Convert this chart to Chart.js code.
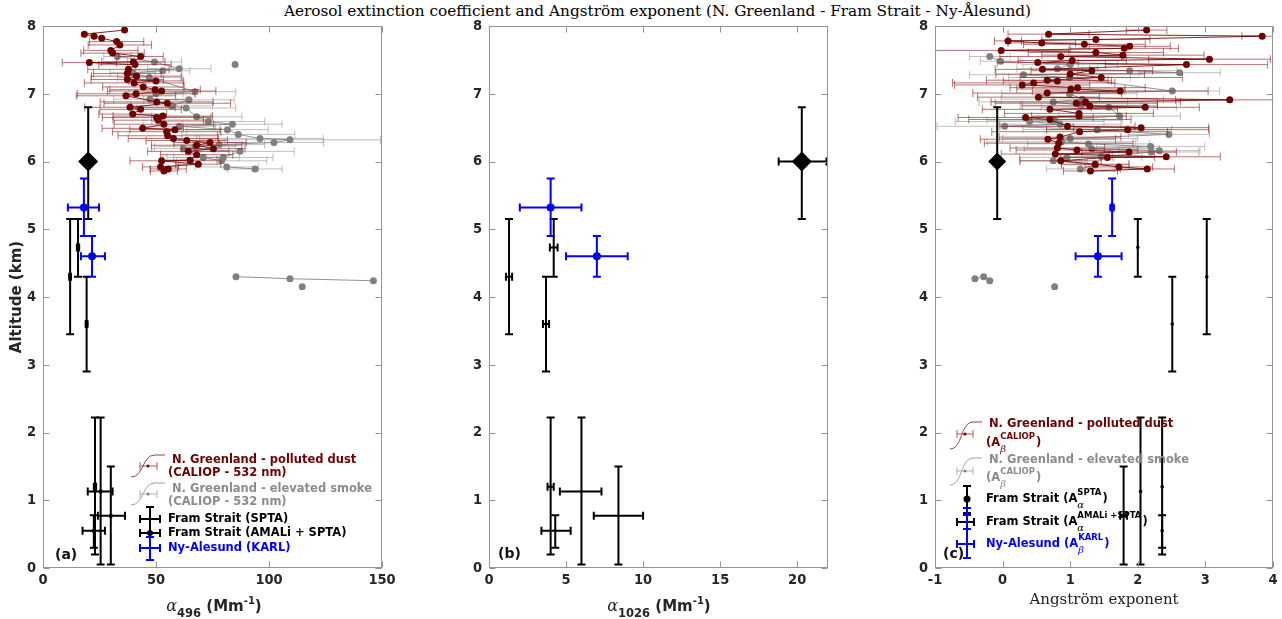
<!DOCTYPE html>
<html>
<head>
<meta charset="utf-8">
<title>Aerosol extinction coefficient and Angström exponent</title>
<script src="https://cdn.jsdelivr.net/npm/chart.js@4.4.1/dist/chart.umd.min.js"></script>
<style>
  html, body { margin: 0; padding: 0; background: #fff; }
  body { width: 1282px; height: 619px; position: relative; overflow: hidden; font-family: 'DejaVu Sans', sans-serif; }
  .panel { position: absolute; top: 0; }
  #title { position: absolute; top: 2px; left: 0; width: 1315px; text-align: center; font-family: 'DejaVu Serif', serif; font-size: 15.3px; color: #000; white-space: nowrap; }
  .xt { position: absolute; transform: translateX(-50%); font-weight: bold; font-size: 15px; color: #262626; white-space: nowrap; line-height: 1; }
  .xt .g { font-family: 'DejaVu Serif', serif; font-style: italic; font-weight: normal; font-size: 16px; }
  .xt sub { font-size: 11.5px; vertical-align: -6px; }
  .xt sup { font-size: 10px; vertical-align: 7px; }
  #xtc { font-family: 'DejaVu Serif', serif; font-weight: normal; font-size: 15px; color: #222; }
</style>
</head>
<body>
<div id="title">Aerosol extinction coefficient and Angström exponent (N. Greenland - Fram Strait - Ny-Ålesund)</div>
<canvas id="panelA" class="panel" width="400" height="619" style="left:0px"></canvas>
<canvas id="panelB" class="panel" width="400" height="619" style="left:440px"></canvas>
<canvas id="panelC" class="panel" width="397" height="619" style="left:885px"></canvas>
<div class="xt" id="xta" style="left:214px; top:596px"><span class="g">α</span><sub>496</sub> (Mm<sup>-1</sup>)</div>
<div class="xt" id="xtb" style="left:659px; top:596px"><span class="g">α</span><sub>1026</sub> (Mm<sup>-1</sup>)</div>
<div class="xt" id="xtc" style="left:1104px; top:592px">Angström exponent</div>
<script>
// ---- axes ----
const altTicks = [0, 1, 2, 3, 4, 5, 6, 7, 8];
const alpha496Ticks = [0, 50, 100, 150];
const alpha1026Ticks = [0, 5, 10, 15, 20];
const angTicks = [-1, 0, 1, 2, 3, 4];

// ---- CALIOP polluted dust, extinction at 532 nm (panel a) ----
const dustAltA = [7.94, 7.88, 7.85, 7.82, 7.77, 7.72, 7.64, 7.60, 7.55, 7.47,
  7.46, 7.43, 7.36, 7.30, 7.26, 7.21, 7.19, 7.16, 7.10, 7.06,
  7.04, 7.00, 6.97, 6.88, 6.86, 6.80, 6.77, 6.70, 6.67, 6.65,
  6.61, 6.55, 6.49, 6.47, 6.44, 6.38, 6.34, 6.31, 6.28, 6.24,
  6.19, 6.15, 6.10, 6.02, 6.01, 5.96, 5.92, 5.89, 5.86];
const dustAlphaA = [36.1, 18.3, 22.6, 26.0, 32.6, 34.0, 30.0, 30.8, 43.2, 40.0,
  20.5, 40.7, 37.8, 37.3, 41.4, 37.3, 50.0, 40.3, 44.4, 49.6,
  52.5, 41.2, 36.7, 50.3, 55.0, 38.5, 43.2, 39.7, 53.0, 50.3,
  51.0, 53.5, 44.1, 58.4, 54.7, 55.2, 57.7, 63.6, 73.9, 68.0,
  75.4, 64.3, 68.0, 65.0, 52.5, 68.7, 52.0, 55.4, 53.5];
const dustAlphaErrA = [0, 0, 0, 0, 12, 14, 12, 14, 10, 14,
  12, 16, 18, 15, 20, 16, 12, 22, 18, 20,
  24, 26, 22, 25, 28, 20, 18, 15, 22, 24,
  20, 22, 18, 20, 24, 22, 20, 18, 16, 20,
  14, 18, 16, 12, 14, 10, 8, 8, 6];

// ---- CALIOP elevated smoke (panel a) ----
const smokeAltA = [7.55, 7.47, 7.37, 7.34, 7.31, 7.24, 7.03, 7.00, 6.92,
  6.91, 6.82, 6.79, 6.66, 6.59, 6.55, 6.52, 6.47, 6.40, 6.34,
  6.32, 6.28, 6.25, 6.22, 6.19, 6.15, 6.06, 6.06, 6.01, 5.92,
  5.89];
const smokeAlphaA = [32.9, 49.3, 60.3, 53.0, 39.7, 47.0, 67.3, 50.0, 47.3,
  64.6, 57.0, 63.3, 68.0, 73.1, 83.8, 60.3, 81.6, 86.4, 96.0,
  109.3, 102.2, 78.0, 67.3, 62.1, 87.2, 79.8, 70.9, 79.0, 81.3,
  93.8];
const smokeAlphaErrA = [6, 12, 14, 12, 10, 14, 18, 12, 16,
  20, 18, 22, 20, 25, 22, 16, 18, 25, 28,
  40, 22, 20, 18, 14, 24, 22, 16, 20, 14,
  12];
const smokeLowAltA = [4.30, 4.27, 4.24];
const smokeLowAlphaA = [85.4, 109.3, 146.2];
const smokeLoneAltA = [7.43, 4.15];
const smokeLoneAlphaA = [85.0, 114.7];

// ---- CALIOP polluted dust, backscatter Angstrom exponent (panel c) ----
const dustAltC = [7.94, 7.88, 7.85, 7.80, 7.78, 7.75, 7.73, 7.70, 7.67, 7.64,
  7.61, 7.57, 7.55, 7.51, 7.49, 7.46, 7.43, 7.36, 7.34, 7.29,
  7.24, 7.20, 7.19, 7.16, 7.13, 7.09, 7.07, 7.04, 7.01, 6.95,
  6.91, 6.88, 6.86, 6.82, 6.80, 6.77, 6.71, 6.67, 6.65, 6.62,
  6.52, 6.50, 6.47, 6.44, 6.36, 6.33, 6.27, 6.20, 6.17, 6.14,
  6.11, 6.07, 6.06, 6.01, 5.96, 5.92, 5.89, 5.86];
const dustAngC = [2.13, 0.68, 3.84, 1.38, 0.08, 0.58, 1.21, 1.88, 1.80, -0.02,
  1.38, 1.78, 0.86, 3.06, 1.03, 0.52, 2.72, 0.59, 1.32, 1.00,
  1.46, 0.66, 0.81, 0.46, 0.29, 1.11, 1.01, 1.74, 0.66, 0.53,
  3.36, 1.23, 1.09, 1.29, 2.11, 0.70, 1.13, 1.13, 0.34, 0.70,
  0.96, 2.05, 1.85, 1.14, 0.85, 0.67, 0.83, 0.81, 1.10, 1.87,
  0.78, 2.42, 1.55, 0.86, 1.37, 1.72, 2.14, 1.30];
const dustAngErrC = [0.3, 0.6, 0.3, 0.8, 0.2, 0.5, 0.9, 0.6, 0.8, 1.0,
  1.0, 1.2, 0.9, 0.9, 0.8, 0.6, 1.2, 0.7, 0.9, 1.1,
  1.2, 0.9, 0.8, 1.2, 1.0, 1.0, 0.8, 1.3, 1.1, 0.9,
  0.8, 1.4, 1.2, 1.0, 0.8, 1.0, 1.1, 0.7, 1.0, 1.2,
  1.0, 1.0, 1.2, 1.3, 0.9, 1.0, 1.1, 0.7, 0.9, 0.7,
  0.8, 0.8, 0.7, 0.6, 0.5, 0.5, 0.4, 0.4];

// ---- CALIOP elevated smoke (panel c) ----
const smokeAltC = [7.55, 7.48, 7.43, 7.37, 7.34, 7.31, 7.28, 7.24, 7.04, 7.00,
  6.92, 6.88, 6.83, 6.80, 6.67, 6.61, 6.59, 6.55, 6.52, 6.47,
  6.40, 6.34, 6.29, 6.26, 6.22, 6.19, 6.16, 6.14, 6.07, 6.06,
  6.01, 5.95, 5.89];
const smokeAngC = [-0.19, -0.03, 1.00, 0.81, 1.88, 2.62, 0.31, 0.99, 2.51, 0.99,
  1.18, 0.75, 1.16, 1.57, 1.73, 0.77, 0.40, 0.85, 0.03, 1.40,
  2.46, 1.00, 0.87, 1.27, 2.19, 1.32, 2.32, 2.20, 1.46, 0.95,
  0.75, 1.37, 1.15];
const smokeAngErrC = [0.3, 0.3, 0.7, 0.6, 0.7, 0.6, 0.8, 0.9, 0.7, 1.0,
  1.2, 1.1, 0.9, 1.0, 0.9, 1.0, 1.1, 0.9, 1.0, 1.1,
  0.6, 1.0, 1.1, 0.9, 0.8, 1.0, 0.6, 0.7, 0.6, 0.7,
  0.5, 0.5, 0.5];
const smokeLowAltC = [4.27, 4.30, 4.24];
const smokeLowAngC = [-0.41, -0.28, -0.19];
const smokeLoneAltC = [4.15];
const smokeLoneAngC = [0.77];

// ---- Fram Strait, AMALi + SPTA ----
const amaliAlt = [4.30, 4.73, 3.60, 1.20, 1.13, 0.77, 0.55];
const amaliAltLo = [3.45, 4.30, 2.90, 0.20, 0.05, 0.05, 0.30];
const amaliAltHi = [5.15, 5.15, 4.30, 2.22, 2.22, 1.50, 0.78];
const amaliAlpha496 = [12.0, 15.5, 19.3, 23.0, 25.5, 30.0, 22.5];
const amaliAlpha496Lo = [11.6, 15.0, 18.9, 22.5, 19.8, 24.3, 17.5];
const amaliAlpha496Hi = [12.4, 16.0, 19.7, 23.5, 30.8, 36.3, 27.4];
const amaliAlpha1026 = [1.3, 4.2, 3.7, 4.0, 6.0, 8.4, 4.3];
const amaliAlpha1026Lo = [1.1, 3.95, 3.5, 3.8, 4.6, 6.8, 3.4];
const amaliAlpha1026Hi = [1.5, 4.45, 3.9, 4.2, 7.3, 10.0, 5.3];
const amaliAng = [3.02, 2.00, 2.51, 2.36, 2.04, 1.79, 2.36];
const amaliAngLo = [3.02, 2.00, 2.51, 2.36, 2.04, 1.74, 2.36];
const amaliAngHi = [3.02, 2.00, 2.51, 2.36, 2.04, 1.84, 2.36];

// ---- Fram Strait, SPTA ----
const sptaAlt = [6.0];
const sptaAltLo = [5.15];
const sptaAltHi = [6.8];
const sptaAlpha496 = [20.0];
const sptaAlpha1026 = [20.3];
const sptaAlpha1026Lo = [18.8];
const sptaAlpha1026Hi = [21.9];
const sptaAng = [-0.08];

// ---- Ny-Alesund, KARL ----
const karlAlt = [5.32, 4.60];
const karlAltLo = [4.90, 4.30];
const karlAltHi = [5.75, 4.90];
const karlAlpha496 = [18.1, 21.7];
const karlAlpha496Lo = [11.0, 16.8];
const karlAlpha496Hi = [24.8, 27.4];
const karlAlpha1026 = [4.0, 7.0];
const karlAlpha1026Lo = [2.0, 5.0];
const karlAlpha1026Hi = [6.0, 9.0];
const karlAng = [1.62, 1.41];
const karlAngLo = [1.60, 1.08];
const karlAngHi = [1.64, 1.76];

// ---- styling ----
const DUST = '#6e0000';
const SMOKE = '#808080';
const BLUE = '#0000ff';
const TICK_FONT = { family: "'DejaVu Sans Condensed', 'DejaVu Sans', sans-serif", size: 14.5, weight: 'bold' };
const LEG_FONT = "bold 11.5px 'DejaVu Sans', sans-serif";

const pts = (xs, ys) => ys.map((y, i) => ({ x: xs[i], y }));

function caliop(xs, ys, err, dust, radius) {
  return {
    data: pts(xs, ys),
    showLine: true,
    borderColor: dust ? 'rgba(110,0,0,0.85)' : 'rgba(128,128,128,0.85)',
    borderWidth: 1,
    pointRadius: radius,
    pointBackgroundColor: dust ? DUST : SMOKE,
    pointBorderWidth: 0,
    order: dust ? 4 : 5,
    errorBars: err ? {
      xLo: xs.map((v, i) => v - err[i]),
      xHi: xs.map((v, i) => v + err[i]),
      color: dust ? 'rgba(140,25,25,0.6)' : 'rgba(150,150,150,0.6)',
      width: 1, cap: 4
    } : null
  };
}

function smokeExtra(xs, ys, line) {
  return {
    data: pts(xs, ys), showLine: line, borderColor: 'rgba(128,128,128,0.85)', borderWidth: 1,
    pointRadius: 3.5, pointBackgroundColor: SMOKE, pointBorderWidth: 0, order: 5
  };
}

function marked(xs, ys, bars, color, style, radius, order) {
  return {
    data: pts(xs, ys), showLine: false,
    pointStyle: style, pointRadius: radius,
    pointBackgroundColor: color, pointBorderColor: color, pointBorderWidth: 0,
    order, errorBars: Object.assign({ color, width: 2, cap: 4 }, bars)
  };
}

// error bars drawn under each dataset's own markers
const errorBarPlugin = {
  id: 'errorBars',
  beforeDatasetDraw(chart, args) {
    const ds = chart.data.datasets[args.index];
    const eb = ds.errorBars;
    if (!eb) return;
    const { ctx, chartArea: a, scales: { x, y } } = chart;
    ctx.save();
    ctx.beginPath();
    ctx.rect(a.left, a.top, a.right - a.left, a.bottom - a.top);
    ctx.clip();
    ctx.strokeStyle = eb.color;
    ctx.lineWidth = eb.width;
    ds.data.forEach((p, i) => {
      const px = x.getPixelForValue(p.x), py = y.getPixelForValue(p.y);
      ctx.beginPath();
      if (eb.xLo) {
        const l = x.getPixelForValue(eb.xLo[i]), r = x.getPixelForValue(eb.xHi[i]);
        if (r - l > 0.5) {
          ctx.moveTo(l, py); ctx.lineTo(r, py);
          ctx.moveTo(l, py - eb.cap); ctx.lineTo(l, py + eb.cap);
          ctx.moveTo(r, py - eb.cap); ctx.lineTo(r, py + eb.cap);
        }
      }
      if (eb.yLo) {
        const b = y.getPixelForValue(eb.yLo[i]), t = y.getPixelForValue(eb.yHi[i]);
        ctx.moveTo(px, b); ctx.lineTo(px, t);
        ctx.moveTo(px - eb.cap, b); ctx.lineTo(px + eb.cap, b);
        ctx.moveTo(px - eb.cap, t); ctx.lineTo(px + eb.cap, t);
      }
      ctx.stroke();
    });
    ctx.restore();
  }
};

// box with inward ticks on all four sides
const framePlugin = {
  id: 'frame',
  afterDraw(chart) {
    const { ctx, chartArea: a, scales: { x, y } } = chart;
    const L = Math.round(a.left) + 0.5, R = Math.round(a.right) - 0.5;
    const T = Math.round(a.top) + 0.5, B = Math.round(a.bottom) - 0.5;
    ctx.save();
    ctx.strokeStyle = '#949494';
    ctx.lineWidth = 1;
    ctx.strokeRect(L, T, R - L, B - T);
    ctx.beginPath();
    x.ticks.forEach(t => {
      const px = Math.round(x.getPixelForValue(t.value)) + 0.5;
      ctx.moveTo(px, B); ctx.lineTo(px, B - 6);
      ctx.moveTo(px, T); ctx.lineTo(px, T + 6);
    });
    y.ticks.forEach(t => {
      const py = Math.round(y.getPixelForValue(t.value)) + 0.5;
      ctx.moveTo(L, py); ctx.lineTo(L + 6, py);
      ctx.moveTo(R, py); ctx.lineTo(R - 6, py);
    });
    ctx.stroke();
    ctx.restore();
  }
};

// ---- legend helpers ----
function hBar(ctx, x0, x1, y, cap) {
  ctx.moveTo(x0, y); ctx.lineTo(x1, y);
  ctx.moveTo(x0, y - cap); ctx.lineTo(x0, y + cap);
  ctx.moveTo(x1, y - cap); ctx.lineTo(x1, y + cap);
}
function vBar(ctx, x, y0, y1, cap) {
  ctx.moveTo(x, y0); ctx.lineTo(x, y1);
  ctx.moveTo(x - cap, y0); ctx.lineTo(x + cap, y0);
  ctx.moveTo(x - cap, y1); ctx.lineTo(x + cap, y1);
}
function sCurve(ctx, x0, y0, x1, y1, x2, color) {
  ctx.beginPath();
  ctx.strokeStyle = color; ctx.lineWidth = 1;
  ctx.moveTo(x0, y0);
  ctx.bezierCurveTo(x0 + (x1 - x0) * 0.55, y0, x0 + (x1 - x0) * 0.45, y1, x1, y1);
  ctx.lineTo(x2, y1);
  ctx.stroke();
}
function dot(ctx, x, y, r, color) {
  ctx.beginPath(); ctx.fillStyle = color; ctx.arc(x, y, r, 0, Math.PI * 2); ctx.fill();
}
function stroke(ctx, color, width, fn) {
  ctx.beginPath(); ctx.strokeStyle = color; ctx.lineWidth = width; fn(); ctx.stroke();
}
function text(ctx, s, x, y, color, font) {
  ctx.font = font || LEG_FONT; ctx.fillStyle = color;
  ctx.textBaseline = 'middle'; ctx.textAlign = 'left';
  ctx.fillText(s, x, y);
}
// text with a stacked superscript / subscript group
function richText(ctx, x, y, parts, color) {
  let cx = x;
  ctx.fillStyle = color; ctx.textBaseline = 'middle'; ctx.textAlign = 'left';
  parts.forEach(p => {
    if (p.sup !== undefined) {
      ctx.font = "bold 8.5px 'DejaVu Sans', sans-serif";
      ctx.fillText(p.sup, cx, y - 6);
      let w = ctx.measureText(p.sup).width;
      ctx.font = "italic 10px 'DejaVu Serif', serif";
      ctx.fillText(p.sub, cx, y + 6);
      w = Math.max(w, ctx.measureText(p.sub).width);
      cx += w + 1;
    } else {
      ctx.font = LEG_FONT;
      ctx.fillText(p.t, cx, y);
      cx += ctx.measureText(p.t).width;
    }
  });
}
function panelLabel(chart, s, dx, dy) {
  const a = chart.chartArea;
  text(chart.ctx, s, a.left + dx, a.bottom + dy, '#111', "bold 14px 'DejaVu Sans', sans-serif");
}

function legendA(chart) {
  const ctx = chart.ctx, a = chart.chartArea;
  const X = v => a.left + v, Y = v => a.bottom + v;
  ctx.save();
  // polluted dust
  sCurve(ctx, X(88), Y(-91), X(112), Y(-113), X(122), 'rgba(130,20,20,0.8)');
  stroke(ctx, 'rgba(140,25,25,0.7)', 1, () => hBar(ctx, X(97), X(114), Y(-102), 4));
  dot(ctx, X(105), Y(-102), 1.5, DUST);
  text(ctx, 'N. Greenland - polluted dust', X(129), Y(-108), DUST);
  text(ctx, '(CALIOP - 532 nm)', X(125), Y(-95), DUST);
  // elevated smoke
  sCurve(ctx, X(88), Y(-63), X(112), Y(-85), X(122), 'rgba(140,140,140,0.8)');
  stroke(ctx, 'rgba(160,160,160,0.8)', 1, () => hBar(ctx, X(97), X(114), Y(-74), 4));
  dot(ctx, X(105), Y(-74), 1.5, SMOKE);
  text(ctx, 'N. Greenland - elevated smoke', X(129), Y(-79), '#8c8c8c');
  text(ctx, '(CALIOP - 532 nm)', X(125), Y(-66), '#8c8c8c');
  // Fram Strait SPTA / AMALi + SPTA
  stroke(ctx, '#000', 2, () => {
    hBar(ctx, X(97), X(117), Y(-49), 4);
    ctx.moveTo(X(107), Y(-61)); ctx.lineTo(X(107), Y(-37));
    ctx.moveTo(X(103), Y(-61)); ctx.lineTo(X(111), Y(-61));
    hBar(ctx, X(97), X(117), Y(-35), 4);
    ctx.moveTo(X(107), Y(-46)); ctx.lineTo(X(107), Y(-24));
  });
  dot(ctx, X(107), Y(-35), 3, '#000');
  text(ctx, 'Fram Strait (SPTA)', X(125), Y(-49), '#000');
  text(ctx, 'Fram Strait (AMALi + SPTA)', X(125), Y(-35), '#000');
  // KARL
  stroke(ctx, BLUE, 2, () => {
    hBar(ctx, X(97), X(117), Y(-20), 4);
    vBar(ctx, X(107), Y(-31), Y(-8), 4);
  });
  text(ctx, 'Ny-Alesund (KARL)', X(125), Y(-20), BLUE);
  ctx.restore();
  panelLabel(chart, '(a)', 12, -13);
}

function legendC(chart) {
  const ctx = chart.ctx, a = chart.chartArea;
  const X = v => a.left + v, Y = v => a.bottom + v;
  ctx.save();
  // polluted dust
  sCurve(ctx, X(15), Y(-119), X(38), Y(-146), X(47), 'rgba(130,20,20,0.8)');
  stroke(ctx, 'rgba(140,25,25,0.7)', 1, () => hBar(ctx, X(22), X(38), Y(-134), 4));
  dot(ctx, X(30), Y(-134), 1.5, DUST);
  text(ctx, 'N. Greenland - polluted dust', X(54), Y(-144), DUST);
  richText(ctx, X(51), Y(-125), [{ t: '(A' }, { sup: 'CALIOP', sub: 'β' }, { t: ')' }], DUST);
  // elevated smoke
  sCurve(ctx, X(15), Y(-83), X(38), Y(-110), X(47), 'rgba(140,140,140,0.8)');
  stroke(ctx, 'rgba(160,160,160,0.8)', 1, () => hBar(ctx, X(22), X(38), Y(-97), 4));
  dot(ctx, X(30), Y(-97), 1.5, SMOKE);
  text(ctx, 'N. Greenland - elevated smoke', X(54), Y(-108), '#8c8c8c');
  richText(ctx, X(51), Y(-90), [{ t: '(A' }, { sup: 'CALIOP', sub: 'β' }, { t: ')' }], '#8c8c8c');
  // Fram Strait
  stroke(ctx, '#000', 2, () => {
    vBar(ctx, X(32), Y(-82), Y(-55), 4);
    hBar(ctx, X(22), X(39), Y(-46), 4);
  });
  dot(ctx, X(32), Y(-69), 3.5, '#000');
  richText(ctx, X(51), Y(-69), [{ t: 'Fram Strait (A' }, { sup: 'SPTA', sub: 'α' }, { t: ')' }], '#000');
  richText(ctx, X(51), Y(-46), [{ t: 'Fram Strait (A' }, { sup: 'AMALi +SPTA', sub: 'α' }, { t: ')' }], '#000');
  // KARL
  stroke(ctx, BLUE, 2, () => {
    vBar(ctx, X(32), Y(-60), Y(-10), 4);
    hBar(ctx, X(22), X(39), Y(-24), 4);
    ctx.moveTo(X(28), Y(-53)); ctx.lineTo(X(36), Y(-53));
    ctx.moveTo(X(28), Y(-39)); ctx.lineTo(X(36), Y(-39));
  });
  richText(ctx, X(51), Y(-24), [{ t: 'Ny-Alesund (A' }, { sup: 'KARL', sub: 'β' }, { t: ')' }], BLUE);
  ctx.restore();
  panelLabel(chart, '(c)', 8, -14);
}

function makePanel(id, cfg) {
  return new Chart(document.getElementById(id), {
    type: 'scatter',
    data: { datasets: cfg.datasets },
    options: {
      responsive: false,
      animation: false,
      devicePixelRatio: 1,
      events: [],
      layout: { padding: { left: 0, right: cfg.padRight, top: 26, bottom: 0 } },
      plugins: { legend: { display: false }, tooltip: { enabled: false } },
      scales: {
        x: {
          type: 'linear', min: cfg.xMin, max: cfg.xMax,
          afterBuildTicks: s => { s.ticks = cfg.xTicks.map(v => ({ value: v })); },
          afterFit: s => { s.height = 51; s.paddingLeft = 0; s.paddingRight = 0; },
          grid: { display: false, drawTicks: false }, border: { display: false },
          ticks: { font: TICK_FONT, color: '#262626', padding: 4, maxRotation: 0, autoSkip: false }
        },
        y: {
          type: 'linear', min: 0, max: 8,
          afterBuildTicks: s => { s.ticks = altTicks.map(v => ({ value: v })); },
          afterFit: s => { s.width = cfg.yWidth; s.paddingTop = 0; s.paddingBottom = 0; },
          grid: { display: false, drawTicks: false }, border: { display: false },
          ticks: { font: TICK_FONT, color: '#262626', padding: 7, autoSkip: false },
          title: {
            display: !!cfg.yTitle, text: cfg.yTitle || '', color: '#262626',
            font: { family: "'DejaVu Sans', sans-serif", size: 15, weight: 'bold' },
            padding: { top: 8, bottom: 0 }
          }
        }
      }
    },
    plugins: [errorBarPlugin, framePlugin, { id: 'deco', afterDraw: cfg.decorate }]
  });
}

// (a) extinction at 496 / 532 nm
makePanel('panelA', {
  xMin: 0, xMax: 150, xTicks: alpha496Ticks, yWidth: 43, padRight: 18, yTitle: 'Altitude (km)',
  decorate: legendA,
  datasets: [
    caliop(smokeAlphaA, smokeAltA, smokeAlphaErrA, false, 3.5),
    smokeExtra(smokeLowAlphaA, smokeLowAltA, true),
    smokeExtra(smokeLoneAlphaA, smokeLoneAltA, false),
    caliop(dustAlphaA, dustAltA, dustAlphaErrA, true, 3.5),
    marked(amaliAlpha496, amaliAlt, { xLo: amaliAlpha496Lo, xHi: amaliAlpha496Hi, yLo: amaliAltLo, yHi: amaliAltHi }, '#000', 'rect', 2.5, 2),
    marked(sptaAlpha496, sptaAlt, { yLo: sptaAltLo, yHi: sptaAltHi }, '#000', 'rectRot', 10, 1),
    marked(karlAlpha496, karlAlt, { xLo: karlAlpha496Lo, xHi: karlAlpha496Hi, yLo: karlAltLo, yHi: karlAltHi }, BLUE, 'circle', 4, 0)
  ]
});

// (b) extinction at 1026 nm
makePanel('panelB', {
  xMin: 0, xMax: 22, xTicks: alpha1026Ticks, yWidth: 49, padRight: 12,
  decorate: chart => panelLabel(chart, '(b)', 9, -14),
  datasets: [
    marked(amaliAlpha1026, amaliAlt, { xLo: amaliAlpha1026Lo, xHi: amaliAlpha1026Hi, yLo: amaliAltLo, yHi: amaliAltHi }, '#000', 'rect', 1.5, 2),
    marked(sptaAlpha1026, sptaAlt, { xLo: sptaAlpha1026Lo, xHi: sptaAlpha1026Hi, yLo: sptaAltLo, yHi: sptaAltHi }, '#000', 'rectRot', 10, 1),
    marked(karlAlpha1026, karlAlt, { xLo: karlAlpha1026Lo, xHi: karlAlpha1026Hi, yLo: karlAltLo, yHi: karlAltHi }, BLUE, 'circle', 4, 0)
  ]
});

// (c) Angstrom exponent
makePanel('panelC', {
  xMin: -1, xMax: 4, xTicks: angTicks, yWidth: 50, padRight: 9,
  decorate: legendC,
  datasets: [
    caliop(smokeAngC, smokeAltC, smokeAngErrC, false, 3.5),
    smokeExtra(smokeLowAngC, smokeLowAltC, true),
    smokeExtra(smokeLoneAngC, smokeLoneAltC, false),
    caliop(dustAngC, dustAltC, dustAngErrC, true, 3.5),
    marked(amaliAng, amaliAlt, { xLo: amaliAngLo, xHi: amaliAngHi, yLo: amaliAltLo, yHi: amaliAltHi }, '#000', 'circle', 1.8, 2),
    marked(sptaAng, sptaAlt, { yLo: sptaAltLo, yHi: sptaAltHi }, '#000', 'rectRot', 9, 1),
    marked(karlAng, karlAlt, { xLo: karlAngLo, xHi: karlAngHi, yLo: karlAltLo, yHi: karlAltHi }, BLUE, ['rect', 'circle'], 4, 0)
  ]
});
</script>
</body>
</html>
